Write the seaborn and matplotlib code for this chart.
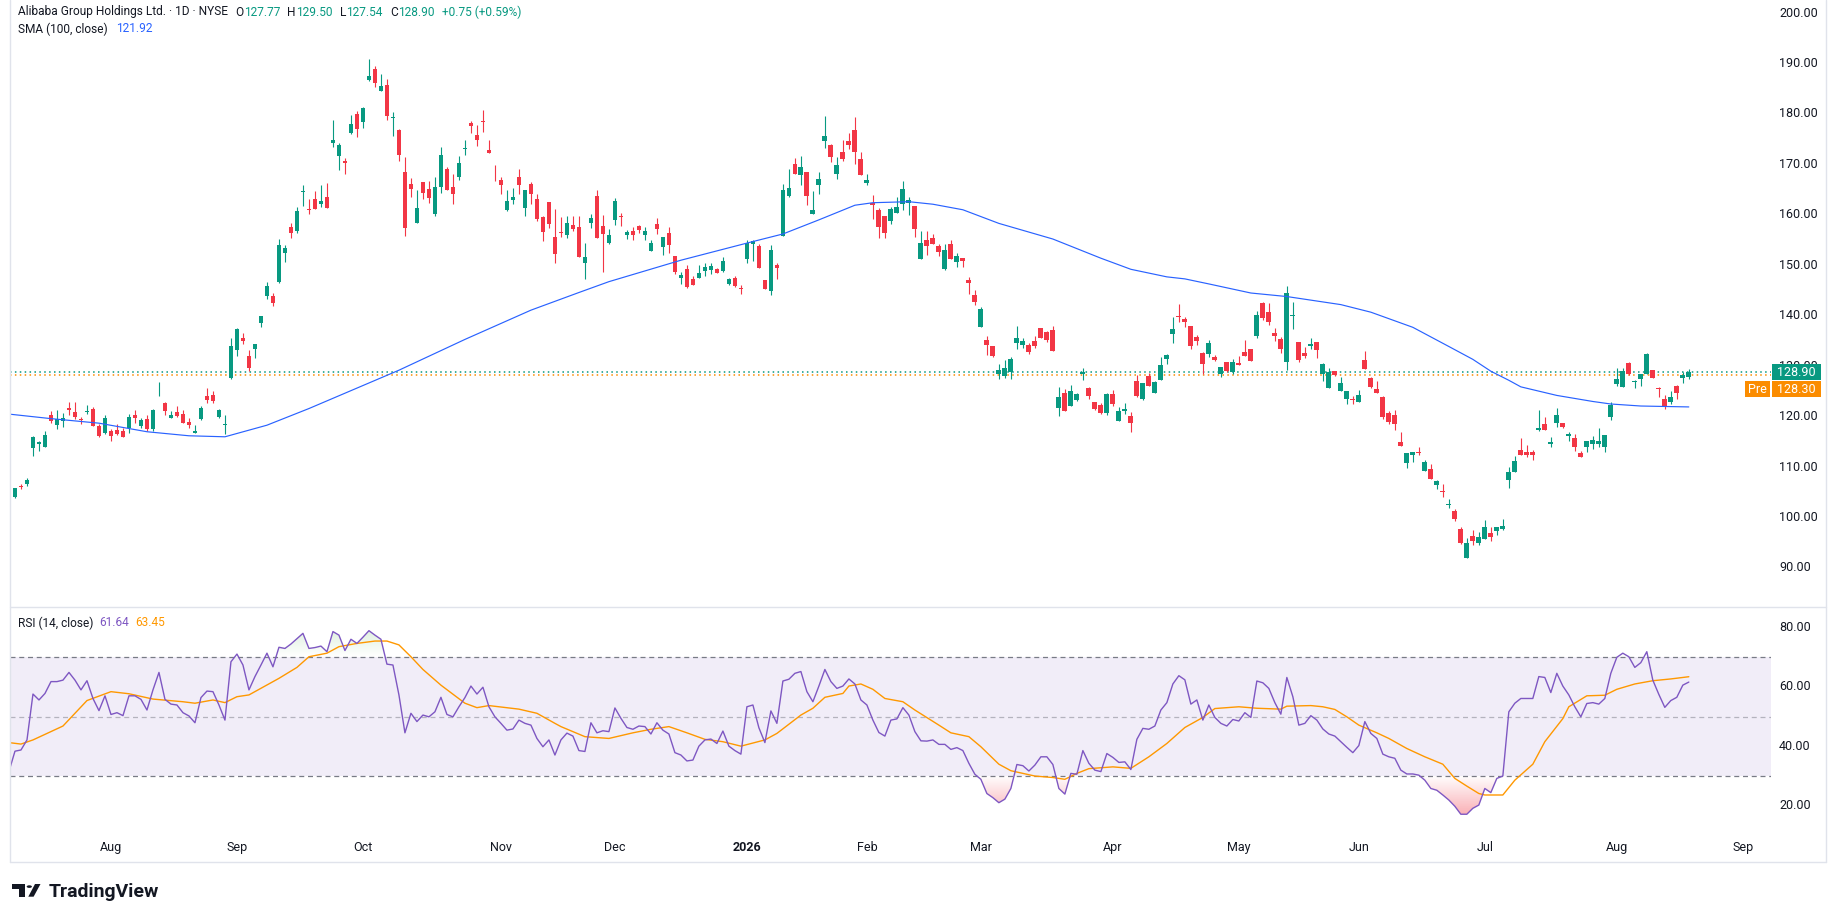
import matplotlib
matplotlib.use("Agg")
import numpy as np
import pandas as pd
import matplotlib.pyplot as plt
import matplotlib.transforms as mtransforms
from matplotlib.path import Path
from matplotlib.patches import Rectangle, Polygon, Circle
import seaborn as sns

# ---------------- data ----------------
start_session = "2025-07-09"
holidays = ["2025-09-01", "2025-11-27", "2025-12-25", "2026-01-01", "2026-01-19",
            "2026-02-16", "2026-04-03", "2026-05-25", "2026-06-19", "2026-07-03",
            "2026-09-07"]

opens = [105.0, 104.1, 106.3, 106.6, 113.7, 114.5, 114.0, 120.3, 118.3, 119.2,
         121.8, 120.9, 119.5, 121.0, 121.5, 118.1, 116.8, 117.1, 117.3, 117.1,
         117.8, 120.3, 118.2, 119.5, 117.5, 125.8, 122.6, 119.8, 120.85, 120.5,
         118.9, 116.8, 119.45, 124.1, 124.3, 120.0, 118.4, 127.7, 133.2, 135.6,
         132.0, 133.5, 138.6, 143.9, 144.0, 146.7, 152.5, 157.5, 156.85, 164.6,
         161.2, 163.1, 162.2, 163.5, 174.3, 171.7, 170.7, 176.3, 179.9, 178.3,
         186.7, 188.9, 184.5, 185.7, 179.2, 176.8, 168.5, 166.2, 158.4, 166.5,
         165.05, 160.2, 165.6, 169.1, 165.6, 167.4, 173.0, 178.2, 175.8, 178.5,
         172.85, 169.15, 166.9, 161.0, 162.9, 167.5, 161.4, 166.1, 163.1, 159.6,
         162.5, 155.6, 156.6, 155.9, 158.0, 157.65, 150.5, 158.4, 163.7, 157.8,
         154.5, 158.97, 159.8, 155.9, 156.8, 157.8, 156.0, 152.9, 158.2, 153.7,
         156.3, 151.8, 147.5, 149.3, 147.3, 147.5, 148.9, 149.1, 149.2, 148.9,
         146.3, 147.5, 145.4, 151.2, 154.3, 153.8, 147.1, 144.8, 150.05, 155.87,
         163.7, 170.1, 167.9, 168.4, 160.2, 165.9, 174.6, 173.8, 168.1, 172.5,
         174.6, 176.8, 171.1, 166.4, 162.3, 160.95, 159.8, 158.8, 160.3, 162.2,
         162.3, 161.8, 151.2, 155.0, 155.4, 153.8, 149.3, 154.2, 150.7, 151.5,
         147.1, 144.1, 137.8, 135.2, 133.9, 128.4, 128.1, 128.9, 134.5, 134.2,
         134.2, 135.0, 137.5, 136.7, 137.2, 121.8, 124.6, 122.2, 123.2, 128.4,
         125.6, 122.8, 122.3, 120.8, 124.4, 119.2, 121.2, 120.1, 127.1, 123.4,
         128.0, 124.7, 127.3, 131.4, 136.4, 140.0, 139.3, 137.96, 135.7, 132.6,
         132.4, 131.75, 128.4, 130.8, 128.9, 130.6, 132.9, 133.4, 136.05, 142.6,
         140.7, 136.6, 135.4, 130.9, 140.0, 134.7, 132.7, 134.0, 134.7, 128.4,
         125.7, 129.04, 125.1, 123.5, 123.4, 122.96, 131.2, 127.7, 125.5, 123.95,
         120.65, 120.3, 114.9, 110.9, 112.4, 112.9, 109.3, 109.6, 106.4, 105.3,
         102.4, 101.3, 97.7, 92.0, 96.3, 95.0, 95.7, 96.85, 97.4, 97.7,
         107.4, 109.1, 113.4, 113.0, 113.0, 117.4, 118.5, 114.6, 118.8, 118.7,
         116.2, 115.75, 112.7, 114.0, 114.6, 114.6, 114.0, 120.0, 126.5, 125.9,
         130.6, 126.9, 127.46, 128.45, 129.2, 125.6, 123.5, 122.8, 126.1, 127.7,
         127.77]

highs = [105.5, 105.9, 106.7, 107.8, 116.1, 115.2, 117.1, 121.2, 121.3, 120.8,
         122.9, 122.9, 119.85, 122.4, 121.96, 118.45, 120.3, 117.5, 118.5, 117.8,
         120.45, 121.3, 119.65, 120.3, 121.6, 126.8, 122.95, 121.1, 122.1, 121.4,
         119.65, 118.3, 122.2, 125.6, 125.0, 121.6, 120.3, 135.5, 137.6, 136.5,
         133.2, 134.4, 139.9, 146.7, 144.6, 155.3, 154.0, 158.3, 161.5, 165.9,
         163.2, 164.7, 165.9, 166.3, 178.7, 174.2, 171.2, 179.8, 180.6, 181.4,
         190.9, 189.4, 187.9, 186.9, 180.4, 177.1, 171.4, 167.2, 164.9, 166.5,
         166.7, 167.5, 173.4, 169.5, 168.1, 171.7, 174.8, 178.5, 177.8, 180.8,
         174.8, 169.9, 167.4, 164.9, 165.4, 169.1, 164.9, 166.5, 164.1, 159.8,
         162.5, 161.15, 159.6, 159.8, 159.8, 159.8, 154.5, 160.2, 164.9, 159.9,
         157.1, 163.27, 160.3, 157.0, 157.5, 158.0, 157.5, 155.1, 159.4, 155.6,
         157.6, 151.8, 148.7, 150.1, 147.9, 150.1, 150.4, 150.4, 149.4, 151.7,
         147.5, 147.9, 146.1, 155.1, 155.0, 154.3, 147.1, 154.0, 150.4, 166.1,
         169.1, 171.2, 171.7, 168.4, 164.7, 168.4, 179.5, 174.0, 171.5, 174.8,
         176.3, 179.3, 172.5, 168.1, 163.9, 161.4, 159.8, 161.5, 163.5, 166.8,
         163.6, 161.8, 156.8, 156.8, 156.2, 154.2, 154.2, 155.0, 152.4, 151.5,
         147.7, 145.1, 141.8, 136.0, 134.0, 130.4, 131.2, 131.75, 137.96, 135.5,
         134.5, 136.0, 137.5, 136.97, 137.96, 125.9, 125.4, 126.3, 124.75, 129.6,
         125.9, 122.8, 122.6, 124.75, 125.3, 121.97, 122.6, 120.97, 128.2, 126.6,
         128.6, 127.06, 131.75, 132.4, 139.8, 142.4, 139.8, 137.96, 136.2, 132.9,
         135.1, 132.2, 129.8, 130.8, 131.4, 132.0, 135.1, 133.5, 140.9, 142.8,
         142.6, 137.6, 135.85, 145.8, 142.8, 134.7, 133.7, 135.5, 134.7, 130.6,
         129.6, 129.04, 127.8, 125.1, 124.1, 125.3, 133.0, 127.9, 127.06, 124.1,
         121.2, 121.3, 117.0, 112.85, 113.0, 113.9, 111.4, 110.6, 107.4, 106.6,
         103.6, 101.7, 98.05, 95.9, 97.5, 97.1, 99.5, 98.2, 98.2, 99.8,
         110.05, 112.2, 115.8, 114.4, 113.4, 121.3, 119.86, 115.9, 121.8, 118.7,
         117.0, 116.55, 113.25, 115.2, 116.2, 117.8, 116.4, 122.8, 129.7, 129.7,
         130.9, 127.2, 128.45, 132.6, 129.2, 125.9, 124.3, 125.1, 126.3, 128.9,
         129.5]

lows = [103.0, 103.8, 105.6, 106.3, 112.2, 113.2, 114.0, 118.8, 117.5, 118.0,
        120.3, 119.5, 118.5, 120.6, 118.2, 116.0, 116.55, 115.2, 116.3, 116.0,
        116.8, 118.7, 117.8, 117.2, 117.2, 124.1, 120.3, 119.8, 120.0, 118.8,
        117.8, 116.7, 119.3, 122.6, 122.6, 119.65, 116.55, 127.4, 132.1, 134.4,
        129.0, 131.7, 137.7, 143.4, 142.0, 146.5, 150.7, 155.5, 156.3, 161.8,
        160.1, 161.15, 161.6, 161.4, 173.5, 168.9, 168.1, 176.0, 175.5, 177.3,
        186.6, 185.4, 184.5, 178.8, 175.7, 170.7, 155.8, 163.6, 158.4, 163.1,
        162.4, 159.8, 164.4, 164.9, 162.2, 166.9, 171.9, 176.2, 173.6, 176.5,
        172.3, 166.8, 164.1, 160.8, 162.2, 164.1, 159.8, 162.2, 158.8, 154.8,
        157.3, 150.5, 155.7, 155.5, 156.7, 151.6, 147.3, 157.45, 155.5, 148.7,
        154.2, 157.98, 157.8, 155.3, 155.0, 156.3, 155.0, 152.9, 156.2, 152.0,
        152.4, 148.3, 146.3, 145.4, 146.0, 147.5, 147.9, 148.3, 148.5, 148.6,
        146.1, 145.76, 144.3, 150.5, 150.9, 149.5, 145.3, 144.1, 147.3, 155.87,
        163.6, 168.1, 165.9, 161.9, 160.2, 164.1, 173.3, 170.5, 167.1, 170.7,
        173.0, 170.1, 167.9, 165.9, 159.2, 155.5, 155.5, 158.2, 160.3, 160.95,
        159.96, 155.7, 151.2, 152.0, 154.2, 151.9, 149.1, 151.2, 149.7, 149.7,
        144.4, 142.1, 137.8, 132.2, 131.8, 127.4, 127.7, 127.4, 133.4, 133.66,
        132.5, 133.66, 135.5, 134.85, 133.1, 120.2, 121.2, 122.2, 123.0, 127.3,
        123.5, 121.3, 120.5, 120.3, 122.1, 119.2, 120.6, 117.0, 123.8, 123.2,
        126.1, 124.6, 127.3, 130.4, 134.6, 138.8, 137.8, 133.5, 134.2, 128.4,
        131.9, 131.1, 127.9, 128.9, 128.4, 130.2, 132.0, 131.1, 135.6, 139.15,
        138.2, 135.05, 132.7, 129.2, 137.4, 130.9, 131.6, 133.5, 131.7, 127.1,
        125.7, 128.1, 125.1, 122.5, 122.5, 122.96, 129.4, 125.6, 124.7, 119.5,
        118.5, 117.3, 114.2, 109.9, 111.1, 112.3, 109.3, 107.6, 105.6, 104.1,
        101.8, 99.4, 94.75, 92.0, 94.6, 94.6, 95.7, 95.4, 96.5, 97.5,
        105.9, 109.1, 112.3, 112.06, 111.4, 117.2, 117.35, 114.0, 118.0, 117.8,
        115.2, 113.25, 111.9, 112.9, 113.65, 114.0, 113.0, 119.3, 126.1, 125.9,
        128.25, 125.7, 126.1, 128.45, 127.7, 123.8, 121.5, 122.5, 123.5, 126.6,
        127.54]

closes = [103.5, 105.8, 106.0, 107.4, 116.0, 114.9, 116.3, 119.2, 119.45, 119.7,
          121.3, 120.0, 119.3, 121.1, 118.2, 116.2, 119.65, 116.15, 116.5, 116.0,
          120.0, 119.8, 119.3, 117.5, 121.3, 125.9, 121.2, 120.3, 120.2, 118.8,
          118.3, 117.1, 121.8, 123.2, 123.0, 121.3, 118.5, 133.9, 137.4, 135.0,
          129.7, 134.4, 139.9, 145.9, 142.6, 154.0, 153.5, 156.45, 160.75, 164.7,
          161.0, 161.15, 162.7, 161.4, 174.8, 173.8, 170.2, 178.1, 177.0, 181.1,
          187.5, 186.2, 185.5, 179.5, 179.3, 171.9, 157.45, 165.1, 161.35, 164.4,
          163.4, 165.5, 171.9, 164.9, 164.2, 170.2, 173.2, 177.7, 174.8, 178.3,
          172.3, 169.0, 165.9, 162.7, 163.5, 165.9, 164.9, 164.2, 159.2, 156.5,
          158.2, 152.3, 156.3, 158.4, 157.2, 151.6, 151.7, 159.4, 155.5, 156.1,
          156.0, 162.74, 159.6, 156.5, 155.9, 156.9, 156.8, 154.5, 157.2, 155.6,
          154.0, 148.7, 148.1, 145.6, 146.0, 148.5, 149.7, 149.85, 148.5, 150.8,
          147.3, 145.96, 145.3, 154.5, 154.9, 149.5, 145.3, 153.0, 149.5, 164.9,
          165.4, 168.1, 169.4, 163.7, 160.95, 167.1, 175.6, 171.5, 169.9, 171.1,
          173.8, 172.5, 167.9, 166.9, 161.9, 157.65, 156.3, 161.15, 161.5, 165.1,
          162.9, 157.2, 154.5, 153.8, 154.2, 152.7, 153.0, 151.2, 151.8, 150.8,
          146.5, 142.8, 141.3, 134.2, 132.1, 129.2, 129.6, 131.35, 135.5, 135.05,
          132.9, 133.9, 135.5, 135.2, 133.1, 123.8, 121.2, 125.1, 124.5, 128.85,
          124.1, 121.5, 120.8, 124.4, 122.5, 121.1, 121.5, 118.7, 124.1, 126.6,
          126.1, 126.8, 130.2, 132.2, 137.4, 139.8, 138.7, 134.06, 135.05, 130.5,
          134.55, 131.2, 129.8, 129.04, 130.8, 130.2, 132.0, 131.1, 140.1, 139.6,
          138.8, 136.05, 133.4, 144.5, 140.1, 131.2, 132.1, 134.3, 133.2, 130.4,
          128.8, 128.25, 126.6, 125.1, 123.2, 124.3, 129.4, 125.9, 124.7, 119.99,
          118.9, 118.5, 114.2, 112.85, 113.0, 112.7, 111.1, 107.6, 107.2, 105.1,
          102.7, 99.7, 94.9, 94.9, 95.4, 96.1, 98.05, 96.2, 98.05, 98.3,
          109.1, 111.2, 112.3, 112.3, 112.3, 117.7, 117.35, 114.9, 120.3, 118.0,
          116.5, 114.0, 112.06, 115.2, 115.4, 115.2, 116.4, 122.4, 127.4, 128.97,
          128.4, 127.1, 128.45, 132.4, 127.7, 125.4, 122.2, 123.9, 124.75, 128.15,
          128.9]

# SMA(100) read at selected sessions (session number from start)
sma_session = [0, 7, 15, 23, 30, 36, 43, 50, 65, 76, 87, 95, 100, 112, 124, 129, 135, 141, 144, 150,
               154, 159, 165, 174, 182, 187, 193, 196, 200, 207, 213, 222, 227, 234, 240, 244, 247, 250,
               252, 258, 264, 267, 272, 280]
sma_value = [120.5, 119.6, 118.7, 117.0, 116.2, 116.0, 118.3, 121.6, 129.2, 135.3, 141.1, 144.6, 146.75,
             151.0, 154.7, 156.2, 159.0, 161.9, 162.4, 162.6, 162.1, 161.0, 158.3, 155.2, 151.4, 149.2,
             147.7, 147.3, 146.3, 144.5, 143.8, 142.2, 140.7, 137.7, 133.9, 131.35, 129.0, 127.2, 125.9,
             124.2, 123.0, 122.5, 122.1, 121.92]

rsi = [31.5, 38.3, 38.7, 42.1, 57.6, 55.6, 57.8, 61.8, 61.8, 62.3,
       64.9, 62.3, 59.0, 62.1, 56.1, 52.0, 57.0, 50.7, 51.3, 50.3,
       57.0, 57.0, 55.8, 52.2, 59.0, 64.9, 55.8, 54.2, 53.9, 51.3,
       50.2, 47.9, 56.4, 58.6, 58.4, 53.9, 48.8, 68.5, 71.1, 67.4,
       59.0, 63.5, 67.4, 71.4, 66.8, 73.4, 73.0, 74.5, 76.3, 78.1,
       73.0, 73.3, 73.8, 71.9, 78.7, 77.5, 72.3, 76.1, 74.7, 76.8,
       79.0, 77.5, 76.1, 67.7, 67.4, 57.3, 44.5, 51.1, 48.3, 50.5,
       49.9, 51.6, 56.5, 50.7, 49.9, 53.3, 56.4, 60.3, 57.6, 59.9,
       53.3, 49.9, 47.7, 45.4, 45.8, 48.8, 47.7, 47.1, 42.6, 39.8,
       42.1, 37.0, 42.1, 44.4, 43.4, 38.5, 38.2, 47.9, 44.5, 45.2,
       44.9, 52.9, 49.4, 46.3, 45.7, 46.8, 46.6, 44.1, 47.9, 45.4,
       44.1, 37.8, 37.0, 35.0, 35.3, 40.0, 42.1, 42.4, 40.9, 45.1,
       40.0, 38.5, 37.3, 53.3, 53.9, 46.2, 41.2, 51.9, 47.7, 62.0,
       62.6, 64.6, 65.2, 58.4, 55.0, 60.3, 65.9, 61.8, 59.5, 60.3,
       62.7, 61.0, 55.6, 53.9, 48.8, 44.6, 43.4, 48.8, 49.2, 53.0,
       50.5, 44.9, 41.8, 41.7, 42.1, 40.6, 40.6, 38.9, 39.5, 38.5,
       34.2, 30.5, 28.8, 24.0, 22.6, 20.9, 22.1, 25.7, 33.8, 33.4,
       31.6, 33.6, 36.4, 36.4, 33.8, 25.7, 23.8, 30.8, 30.5, 38.5,
       34.2, 31.9, 31.4, 37.5, 36.2, 34.5, 34.7, 32.1, 42.3, 46.0,
       45.7, 46.8, 52.2, 54.7, 61.0, 63.8, 62.4, 54.2, 55.6, 48.8,
       53.9, 49.7, 47.7, 46.8, 49.0, 48.5, 51.3, 49.7, 62.0, 61.4,
       59.5, 54.7, 50.8, 63.2, 56.7, 47.1, 47.7, 50.3, 48.8, 45.8,
       44.1, 43.4, 41.5, 39.6, 37.8, 40.2, 48.3, 44.3, 42.6, 37.3,
       36.4, 35.9, 31.9, 30.6, 30.6, 30.2, 28.5, 25.7, 25.1, 23.5,
       21.8, 19.7, 17.0, 17.0, 19.0, 20.1, 25.7, 24.3, 29.1, 29.9,
       51.6, 54.5, 56.1, 56.1, 56.1, 63.5, 63.2, 58.1, 64.6, 60.3,
       57.3, 53.3, 49.9, 54.4, 54.7, 54.2, 56.1, 64.6, 70.0, 71.4,
       70.2, 66.6, 68.2, 71.9, 62.3, 57.5, 53.1, 55.4, 56.5, 60.6,
       61.64]

rsi_ma_session = [0, 2, 4, 9, 13, 17, 20, 24, 29, 31, 34, 36, 38, 40, 45, 48, 50, 53, 55, 58,
                  61, 63, 65, 67, 69, 72, 76, 78, 80, 85, 88, 91, 92, 94, 96, 100, 104, 107, 110, 113,
                  116, 119, 122, 126, 128, 132, 134, 136, 139, 140, 142, 144, 146, 149, 151, 155, 157, 160, 162, 165,
                  167, 171, 174, 176, 178, 180, 184, 187, 190, 193, 196, 199, 201, 205, 208, 212, 213, 217, 219, 221,
                  223, 225, 228, 230, 233, 236, 239, 241, 243, 245, 246, 249, 251, 254, 256, 259, 260, 263, 266, 268,
                  271, 274, 277, 280]
rsi_ma_value = [41.2, 40.7, 42.1, 46.8, 55.4, 58.4, 57.7, 55.9, 55.0, 54.5, 55.6, 54.7, 56.7, 57.3, 62.9, 66.6, 70.2, 71.4, 73.6, 74.7,
                75.5, 75.5, 74.2, 70.2, 65.9, 60.6, 54.5, 53.0, 53.7, 52.5, 51.1, 47.7, 46.6, 44.9, 43.2, 42.6, 44.5, 45.7, 46.6, 44.5,
                42.3, 41.5, 40.0, 42.1, 44.3, 50.5, 52.8, 56.5, 57.8, 60.3, 61.0, 59.2, 56.1, 55.0, 52.2, 47.1, 44.5, 43.2, 39.8, 33.9,
                31.7, 29.9, 29.4, 28.8, 30.8, 32.4, 33.0, 32.5, 36.4, 40.9, 46.3, 49.7, 52.7, 53.3, 52.8, 52.5, 53.5, 53.7, 53.3, 52.4,
                49.9, 47.1, 44.5, 42.6, 39.2, 36.4, 33.9, 29.1, 26.5, 24.0, 23.5, 23.5, 28.5, 33.9, 41.5, 49.3, 53.3, 57.0, 57.2, 59.2,
                61.0, 62.1, 62.7, 63.45]

price_ticks = [90, 100, 110, 120, 130, 140, 150, 160, 170, 180, 190, 200]
rsi_ticks = [20, 40, 60, 80]
last_close = 128.90
pre_price = 128.30

# ---------------- style ----------------
sns.set_theme(style="white")
plt.rcParams["font.family"] = ["Roboto", "DejaVu Sans"]

UP = "#089981"
DOWN = "#F23645"
DARK = "#131722"
BLUE = "#2962FF"
PURPLE = "#7E57C2"
ORANGE = "#FF9800"
PRE = "#FB8C00"
BORDER = "#E0E3EB"
GRIDDASH = "#787B86"

W, H = 1835, 922
fig = plt.figure(figsize=(W / 100, H / 100), dpi=100)
fig.patch.set_facecolor("white")
renderer = fig.canvas.get_renderer()


def fx(p):
    return p / W


def fy(p):
    return 1 - p / H


PL, PR = 10, 1771
MT, MB = 0, 606
RT, RB = 607, 832

ax = fig.add_axes([fx(PL), fy(MB), (PR - PL) / W, (MB - MT) / H])
ax2 = fig.add_axes([fx(PL), fy(RB), (PR - PL) / W, (RB - RT) / H])
for a in (ax, ax2):
    a.set_axis_off()

o = np.array(opens); h = np.array(highs); l = np.array(lows); c = np.array(closes)
n = len(c)
x = np.arange(n)
cols = np.where(c >= o, UP, DOWN)

XL = (0.17, 293.7)

# ---------------- main pane ----------------
ax.vlines(x, l, h, colors=cols, linewidth=0.8, zorder=3)
ax.bar(x, np.maximum(np.abs(c - o), 0.13), bottom=np.minimum(o, c), width=0.8,
       color=cols, linewidth=0, zorder=4)
sns.lineplot(x=sma_session, y=sma_value, ax=ax, color=BLUE, linewidth=0.85, legend=False, zorder=5)
ax.axhline(last_close, color=UP, linestyle=(0, (1, 2.2)), linewidth=1.1, zorder=2)
ax.axhline(pre_price, color=PRE, linestyle=(0, (1, 2.2)), linewidth=1.1, zorder=2)
ax.set_xlim(*XL)
ax.set_ylim(82.46, 202.58)

# ---------------- RSI pane ----------------
ax2.axhspan(30, 70, color=PURPLE, alpha=0.1, linewidth=0, zorder=0)
ax2.axhline(70, color=GRIDDASH, linestyle=(0, (4, 3)), linewidth=0.9, zorder=1)
ax2.axhline(30, color=GRIDDASH, linestyle=(0, (4, 3)), linewidth=0.9, zorder=1)
ax2.axhline(50, color=GRIDDASH, alpha=0.5, linestyle=(0, (4, 3)), linewidth=0.9, zorder=1)

rsi_arr = np.array(rsi)


def grad_fill(axis, xs, ys, level, lo, hi, rgb, amax, above):
    where = ys > level if above else ys < level
    poly = axis.fill_between(xs, ys, level, where=where, interpolate=True,
                             color="none", linewidth=0)
    paths = poly.get_paths()
    if not paths:
        return
    path = Path.make_compound_path(*paths)
    t = np.linspace(0, 1, 256)
    alpha = t * amax if above else (1 - t) * amax
    img = np.zeros((256, 1, 4))
    img[:, 0, 0] = rgb[0]; img[:, 0, 1] = rgb[1]; img[:, 0, 2] = rgb[2]
    img[:, 0, 3] = alpha
    im = axis.imshow(img, extent=[xs[0], xs[-1], lo, hi], origin="lower",
                     aspect="auto", interpolation="bilinear", zorder=2)
    im.set_clip_path(path, axis.transData)


grad_fill(ax2, x.astype(float), rsi_arr, 70, 70, 100, (0.30, 0.69, 0.31), 0.6, True)
grad_fill(ax2, x.astype(float), rsi_arr, 30, 0, 30, (0.95, 0.21, 0.27), 0.9, False)

sns.lineplot(x=x, y=rsi_arr, ax=ax2, color=PURPLE, linewidth=1.0, legend=False, zorder=4)
sns.lineplot(x=rsi_ma_session, y=rsi_ma_value, ax=ax2, color=ORANGE, linewidth=1.0, legend=False, zorder=3)
ax2.set_xlim(*XL)
ax2.set_ylim(11.0, 87.0)

# ---------------- borders ----------------
def hline(y, x0, x1):
    fig.add_artist(plt.Line2D([fx(x0), fx(x1)], [fy(y), fy(y)], color=BORDER, linewidth=1.0))


def vline(xp, y0, y1):
    fig.add_artist(plt.Line2D([fx(xp), fx(xp)], [fy(y0), fy(y1)], color=BORDER, linewidth=1.0))


vline(9.5, 0, 862)
vline(1826, 0, 862)
hline(606.5, 9.5, 1826)
hline(862, 9.5, 1826)

# ---------------- price & rsi scales ----------------
bt_main = mtransforms.blended_transform_factory(fig.transFigure, ax.transData)
for p in price_ticks:
    ax.text(fx(1779), p, f"{p:.2f}", transform=bt_main, ha="left", va="center",
            fontsize=9, color=DARK, clip_on=False, zorder=1)
bt_rsi = mtransforms.blended_transform_factory(fig.transFigure, ax2.transData)
for r in rsi_ticks:
    ax2.text(fx(1779), r, f"{r:.2f}", transform=bt_rsi, ha="left", va="center",
             fontsize=9, color=DARK, clip_on=False)

# last price / pre-market labels (drawn over the scale, as in the terminal)
fig.add_artist(Rectangle((fx(1772), fy(380)), 49 / W, 16 / H, transform=fig.transFigure,
                         facecolor=UP, edgecolor="none", zorder=10))
fig.text(fx(1796.5), fy(372), f"{last_close:.2f}", ha="center", va="center", fontsize=9,
         color="white", zorder=11)
fig.add_artist(Rectangle((fx(1772), fy(397)), 49 / W, 16 / H, transform=fig.transFigure,
                         facecolor=PRE, edgecolor="none", zorder=10))
fig.text(fx(1796.5), fy(389), f"{pre_price:.2f}", ha="center", va="center", fontsize=9,
         color="white", zorder=11)
fig.add_artist(Rectangle((fx(1745), fy(397)), 25 / W, 16 / H, transform=fig.transFigure,
                         facecolor=PRE, edgecolor="none", zorder=10))
fig.text(fx(1757.5), fy(389), "Pre", ha="center", va="center", fontsize=9,
         color="white", zorder=11)

# ---------------- time axis ----------------
sessions = pd.bdate_range(start_session, periods=300, freq="C", holidays=holidays)
month_first = {}
for i, d in enumerate(sessions):
    key = (d.year, d.month)
    if key not in month_first:
        month_first[key] = i
bt_time = mtransforms.blended_transform_factory(ax2.transData, fig.transFigure)
for (yr, mo), i in month_first.items():
    if i < 5 or i > XL[1] - 3:
        continue
    lab = str(yr) if mo == 1 else pd.Timestamp(yr, mo, 1).strftime("%b")
    ax2.text(i, fy(847), lab, transform=bt_time, ha="center", va="center", fontsize=9,
             color=DARK, fontweight="bold" if mo == 1 else "normal", clip_on=False)

# ---------------- legends ----------------
def seq(x0, y0, parts, size):
    xp = x0
    for s, col, gap in parts:
        t = fig.text(fx(xp), fy(y0), s, color=col, fontsize=size, ha="left", va="center")
        xp += t.get_window_extent(renderer).width + gap


seq(18, 12, [("Alibaba Group Holdings Ltd. \u00b7 1D \u00b7 NYSE", DARK, 7),
             ("O", DARK, 0.5), ("127.77", UP, 7), ("H", DARK, 0.5), ("129.50", UP, 7),
             ("L", DARK, 0.5), ("127.54", UP, 7), ("C", DARK, 0.5), ("128.90", UP, 7),
             ("+0.75 (+0.59%)", UP, 0)], 8.6)
seq(18, 29, [("SMA (100, close)", DARK, 8), ("121.92", BLUE, 0)], 8.6)
seq(18, 623, [("RSI (14, close)", DARK, 6), ("61.64", PURPLE, 6), ("63.45", ORANGE, 0)], 8.6)

# ---------------- TradingView logo ----------------
fig.add_artist(Rectangle((fx(11.7), fy(889)), 13.3 / W, 5 / H, transform=fig.transFigure,
                         facecolor=DARK, edgecolor="none"))
fig.add_artist(Rectangle((fx(19.3), fy(896.7)), 5.7 / W, 12.7 / H, transform=fig.transFigure,
                         facecolor=DARK, edgecolor="none"))
fig.add_artist(Circle((fx(29.3), fy(886.6)), 2.6 / W, transform=fig.transFigure,
                      facecolor=DARK, edgecolor="none"))
fig.add_artist(Polygon([(fx(28.3), fy(896.7)), (fx(35), fy(884)), (fx(40.5), fy(884)), (fx(33.6), fy(896.7))],
                       closed=True, transform=fig.transFigure, facecolor=DARK, edgecolor="none"))
fig.text(fx(49), fy(897), "TradingView", fontsize=14, fontweight="bold", color=DARK,
         ha="left", va="baseline")

fig.savefig("out.png", dpi=100, facecolor="white")
